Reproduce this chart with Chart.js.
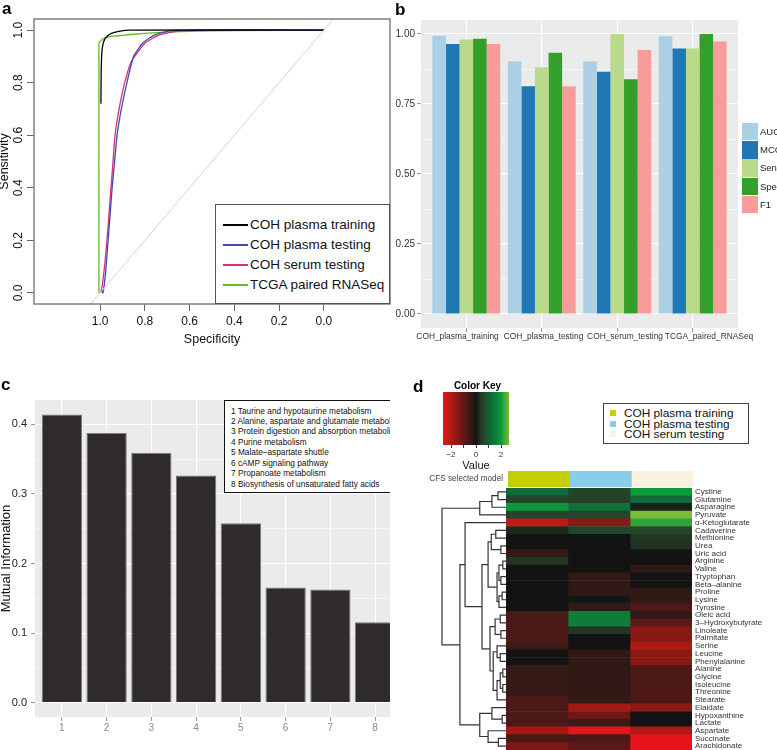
<!DOCTYPE html>
<html>
<head>
<meta charset="utf-8">
<title>Metabolite classifier figure</title>
<script src="https://cdn.jsdelivr.net/npm/chart.js@4.4.1/dist/chart.umd.min.js"></script>
<style>
html,body{margin:0;padding:0;background:#fff;}
body{width:777px;height:750px;position:relative;overflow:hidden;font-family:"Liberation Sans",Arial,Helvetica,sans-serif;color:#000;}
canvas{position:absolute;display:block;}
.lbl{position:absolute;font-weight:bold;font-size:17px;line-height:17px;}
</style>
</head>
<body>
<canvas id="cA" width="391" height="350" style="left:0;top:0"></canvas>
<canvas id="cB" width="387" height="350" style="left:390px;top:0"></canvas>
<div id="wrapC" style="position:absolute;left:0;top:360px;width:390px;height:390px;overflow:hidden;">
  <canvas id="cC" width="410" height="390" style="left:0;top:0"></canvas>
</div>
<canvas id="cKey" width="95" height="98" style="left:430px;top:376px"></canvas>
<canvas id="cBar" width="274" height="24" style="left:420px;top:466px"></canvas>
<canvas id="cDend" width="72" height="266" style="left:436px;top:484px"></canvas>
<canvas id="cHeat" width="277" height="266" style="left:500px;top:484px"></canvas>
<div class="lbl" style="left:2px;top:0px;">a</div>
<div class="lbl" style="left:395px;top:1px;">b</div>
<div class="lbl" style="left:1px;top:376px;">c</div>
<div class="lbl" style="left:413px;top:378px;">d</div>
<div style="position:absolute;left:430px;top:380px;width:95px;text-align:center;font-weight:bold;font-size:10px;line-height:11px;">Color Key</div>
<script>
// ---------------- DATA ----------------
// Panel a: ROC curves (specificity, sensitivity)
const rocNames = ['COH plasma training','COH plasma testing','COH serum testing','TCGA paired RNASeq'];
const rocColors = ['#000000','#3d4ab8','#d8307a','#62bd1e'];
const trainSpec  = [0.996,0.995,0.993,0.990,0.985,0.975,0.960,0.940,0.910,0.870,0.0];
const trainSens  = [0.72,0.84,0.90,0.93,0.953,0.970,0.982,0.990,0.996,1.0,1.0];
const plasmaSpec = [0.992,0.987,0.975,0.964,0.955,0.946,0.935,0.924,0.905,0.880,0.850,0.810,0.760,0.700,0.650,0.0];
const plasmaSens = [0.01,0.0,0.08,0.20,0.30,0.40,0.50,0.60,0.70,0.80,0.90,0.95,0.98,0.995,1.0,1.0];
const serumSpec  = [0.997,0.990,0.980,0.969,0.960,0.951,0.942,0.933,0.915,0.890,0.860,0.800,0.740,0.660,0.550,0.0];
const serumSens  = [0.0,0.03,0.10,0.20,0.30,0.40,0.50,0.60,0.70,0.80,0.88,0.95,0.98,0.995,1.0,1.0];
const tcgaSpec   = [1.005,1.005,0.998,0.990,0.970,0.940,0.900,0.850,0.750,0.600,0.400,0.0];
const tcgaSens   = [0.0,0.95,0.958,0.965,0.972,0.977,0.980,0.984,0.990,0.995,0.998,1.0];
const chanceSpec = [1.3,-0.3];
const chanceSens = [-0.3,1.3];
const rocTicks = [1.0,0.8,0.6,0.4,0.2,0.0];

// Panel b: performance metrics
const bGroups = ['COH_plasma_training','COH_plasma_testing','COH_serum_testing','TCGA_paired_RNASeq'];
const bLabelAt = [0.884,2.023,3.103,4.216];
const bMetrics = ['AUC','MCC','Sens','Spec','F1'];
const bColors = ['#abd0e6','#1f78b4','#b8da8a','#33a02c','#f89c9b'];
const bAUC  = [0.994,0.903,0.902,0.992];
const bMCC  = [0.964,0.813,0.865,0.948];
const bSens = [0.980,0.881,1.000,0.948];
const bSpec = [0.983,0.933,0.838,1.000];
const bF1   = [0.964,0.813,0.943,0.973];
const bYGrid = [0,0.125,0.25,0.375,0.5,0.625,0.75,0.875,1.0];

// Panel c: mutual information of pathways
const cPathways = ['Taurine and hypotaurine metabolism','Alanine, aspartate and glutamate metabolism','Protein digestion and absorption metabolism','Purine metabolism','Malate\u2013aspartate shuttle','cAMP signaling pathway','Propanoate metabolism','Biosynthesis of unsaturated fatty acids'];
const cRanks = [1,2,3,4,5,6,7,8];
const cMI = [0.4144,0.3875,0.3592,0.3266,0.2580,0.1655,0.1626,0.1156];
const cYGrid = [0,0.05,0.1,0.15,0.2,0.25,0.3,0.35,0.4];

// Panel d: heatmap
const groupNames = ['COH plasma training','COH plasma testing','COH serum testing'];
const groupColors = ['#c4cf00','#87ceeb','#fcf0e0'];
const hmRows = ['Cystine','Glutamine','Asparagine','Pyruvate','\u03b1-Ketoglutarate','Cadaverine','Methionine','Urea','Uric acid','Arginine','Valine','Tryptophan','Beta\u2013alanine','Proline','Lysine','Tyrosine','Oleic acid','3\u2013Hydroxybutyrate','Linoleate','Palmitate','Serine','Leucine','Phenylalanine','Alanine','Glycine','Isoleucine','Threonine','Stearate','Elaidate','Hypoxanthine','Lactate','Aspartate','Succinate','Arachidonate'];
const hmTraining      = [1.2,0.6,2.0,0.6,-2.2,0.25,0,0,-0.35,0.4,0,0,0,0,0,0,-0.7,-0.7,-0.7,-0.7,-0.5,0,0,-0.4,-0.4,-0.4,-0.4,-0.7,-0.7,-0.7,-0.7,-1.8,-0.7,-1.3];
const hmPlasmaTesting = [0.6,0.55,1.3,0.6,-1.5,0.6,0,0,0,0,0,-0.35,-0.35,-0.35,0.05,-0.35,1.5,1.5,0.4,0,0,-0.35,-0.35,-0.35,-0.35,-0.35,-0.35,-0.35,-1.8,-1.1,-0.5,-2.6,-0.7,-0.9];
const hmSerumTesting  = [2.0,1.2,0.15,2.7,2.2,0.6,0.4,0.35,0,0,-0.35,0,0,-0.35,-0.35,-0.7,-0.35,-0.9,-1.5,-1.5,-2.0,-1.5,-1.5,-0.7,-0.7,-0.7,-0.7,-0.7,-1.5,0,0,-2.0,-2.6,-2.6];
const keyStops  = [-2.64,-2.0,-1.0,-0.35,0,0.5,1.2,2.0,2.64];
const keyColors = ['#e8141a','#b01a16','#641816','#311a16','#131313','#263f27','#0f6b3a','#0a9a3a','#7cbb38'];
const keyTicks = [-2,-1,0,1,2];
// dendrogram, hclust style: negative = leaf (row number), positive = earlier merge
const dendLeft   = [-1, 1, 2, -6, -8, 4, -10, -12, 7, -14, 10, 9, 6, -17, -19, 14, -22, -21, -24, -26, 19, 21, 18, 16, 13, -5, -30, -29, -33, -32, 28, 26, 3];
const dendRight  = [-2, -3, -4, -7, -9, 5, -11, -13, 8, -15, -16, 11, 12, -18, -20, 15, -23, 17, -25, -27, 20, -28, 22, 23, 24, 25, -31, 27, -34, 29, 30, 31, 32];
const dendHeight = [1.25, 2.2, 4.1, 1.6, 0.8, 2.3, 0.5, 0.8, 1.1, 0.6, 1.1, 1.4, 2.8, 0.9, 0.8, 1.7, 0.9, 1.4, 0.5, 0.5, 0.9, 1.4, 2.0, 2.5, 3.75, 6.4, 0.6, 2.2, 1.2, 2.8, 4.1, 7.2, 10];

// ---------------- HELPERS ----------------
Chart.defaults.font.family = '"Liberation Sans", Arial, Helvetica, sans-serif';
Chart.defaults.color = '#000';
function baseOpts(o){
  const p = Object.assign({legend:{display:false}, tooltip:{enabled:false}}, o.plugins || {});
  return Object.assign({responsive:false, animation:false, devicePixelRatio:1, events:[]}, o, {plugins:p});
}
function noPad(s){ s.paddingTop = 0; s.paddingBottom = 0; s.paddingLeft = 0; s.paddingRight = 0; }
function fitW(w){ return s => { s.width = w; noPad(s); }; }
function fitH(h){ return s => { s.height = h; noPad(s); }; }
function addDiv(parent, css, text){
  const d = document.createElement('div');
  d.style.cssText = 'position:absolute;white-space:nowrap;' + css;
  if (text != null) d.textContent = text;
  parent.appendChild(d);
  return d;
}
function hexToRgb(h){ const n = parseInt(h.slice(1),16); return [(n>>16)&255,(n>>8)&255,n&255]; }
function valueColor(v){
  v = Math.max(keyStops[0], Math.min(keyStops[keyStops.length-1], v));
  for (let i = 1; i < keyStops.length; i++){
    if (v <= keyStops[i]){
      const t = (v - keyStops[i-1]) / (keyStops[i] - keyStops[i-1]);
      const a = hexToRgb(keyColors[i-1]), b = hexToRgb(keyColors[i]);
      return 'rgb(' + a.map((c,j) => Math.round(c + (b[j]-c)*t)).join(',') + ')';
    }
  }
  return keyColors[keyColors.length-1];
}
const panelBg = {id:'panelBg', beforeDraw(chart, args, opts){
  if (!opts || !opts.color) return;
  const {ctx, chartArea:a} = chart;
  ctx.save(); ctx.fillStyle = opts.color; ctx.fillRect(a.left, a.top, a.right-a.left, a.bottom-a.top); ctx.restore();
}};
const frame = {id:'frame', afterDraw(chart, args, opts){
  if (!opts || !opts.color) return;
  const {ctx, chartArea:a} = chart;
  ctx.save(); ctx.strokeStyle = opts.color; ctx.lineWidth = opts.width || 1;
  ctx.strokeRect(a.left, a.top, a.right-a.left, a.bottom-a.top); ctx.restore();
}};
const keyGradient = {id:'keyGradient', beforeDatasetsDraw(chart){
  const {ctx, chartArea:a, scales:{x}} = chart;
  const g = ctx.createLinearGradient(a.left, 0, a.right, 0);
  keyStops.forEach((v,i) => {
    const f = (x.getPixelForValue(v) - a.left) / (a.right - a.left);
    g.addColorStop(Math.max(0, Math.min(1, f)), keyColors[i]);
  });
  ctx.save(); ctx.fillStyle = g; ctx.fillRect(a.left, a.top, a.right-a.left, a.bottom-a.top); ctx.restore();
}};

// ---------------- PANEL A ----------------
const rocSpecs = [trainSpec, plasmaSpec, serumSpec, tcgaSpec];
const rocSens  = [trainSens, plasmaSens, serumSens, tcgaSens];
new Chart(document.getElementById('cA'), {
  type:'scatter',
  data:{datasets:[
    {label:'chance', data: chanceSpec.map((x,i)=>({x, y:chanceSens[i]})), borderColor:'#cfd0ea', borderWidth:1, showLine:true, pointRadius:0},
    ...rocNames.map((n,i)=>({label:n, data: rocSpecs[i].map((x,j)=>({x, y:rocSens[i][j]})), borderColor:rocColors[i], borderWidth:1.3, showLine:true, pointRadius:0, tension:0.15}))
  ]},
  options: baseOpts({
    layout:{padding:{top:19, right:1, left:0, bottom:0}},
    scales:{
      x:{type:'linear', reverse:true, min:-0.295, max:1.295,
         afterBuildTicks(s){ s.ticks = rocTicks.map(v=>({value:v})); },
         ticks:{callback:v=>Number(v).toFixed(1), font:{size:12}, color:'#111', padding:3, autoSkip:false, maxRotation:0},
         grid:{drawOnChartArea:false, tickLength:7, color:'#666'}, border:{display:false},
         title:{display:true, text:'Specificity', font:{size:12.5}, color:'#111', padding:{top:0,bottom:3}},
         afterFit: fitH(46)},
      y:{type:'linear', min:-0.042, max:1.042,
         afterBuildTicks(s){ s.ticks = rocTicks.slice().reverse().map(v=>({value:v})); },
         ticks:{callback:v=>Number(v).toFixed(1), font:{size:12}, color:'#111', padding:0, minRotation:90, maxRotation:90, crossAlign:'center', autoSkip:false},
         grid:{drawOnChartArea:false, tickLength:7, color:'#666'}, border:{display:false},
         title:{display:true, text:'Sensitivity', font:{size:12.5, lineHeight:0.7}, color:'#111', padding:0},
         afterFit: fitW(34)}
    },
    plugins:{frame:{color:'#808080', width:1.5}}
  }),
  plugins:[frame]
});
// legend a
(function(){
  addDiv(document.body, 'left:215px;top:204px;width:175px;height:100px;box-sizing:border-box;border:1.5px solid #555;background:#fff;');
  rocNames.forEach((n,i)=>{
    const cy = 225 + 20*i;
    addDiv(document.body, `left:223px;top:${cy-0.75}px;width:25px;height:1.5px;background:${rocColors[i]};`);
    addDiv(document.body, `left:250px;top:${cy-8}px;font-size:13.5px;line-height:16px;color:#111;`, n);
  });
})();

// ---------------- PANEL B ----------------
const bValues = [bAUC, bMCC, bSens, bSpec, bF1];
const isMajorB = v => Math.abs(v*4 - Math.round(v*4)) < 1e-6;
new Chart(document.getElementById('cB'), {
  type:'bar',
  data:{datasets: bMetrics.map((m,i)=>({label:m, data: bValues[i].map((v,j)=>({x:j+1, y:v})), backgroundColor:bColors[i], categoryPercentage:0.9, barPercentage:1, borderWidth:0}))},
  options: baseOpts({
    layout:{padding:{top:20, right:39, left:0, bottom:0}},
    scales:{
      x:{type:'linear', min:0.4, max:4.6, offset:false, weight:0,
         afterBuildTicks(s){ s.ticks = bGroups.map((g,i)=>({value:i+1})); },
         ticks:{display:false},
         grid:{offset:false, color:'#ffffff', lineWidth:1.1, tickColor:'#999', tickLength:4}, border:{display:false},
         afterFit: fitH(4)},
      xLab:{type:'linear', position:'bottom', axis:'x', min:0.4, max:4.6, offset:false, weight:1,
         afterBuildTicks(s){ s.ticks = bLabelAt.map(v=>({value:v})); },
         ticks:{callback:(v,i)=>bGroups[i], font:{size:8.4}, color:'#333', padding:0, autoSkip:false, maxRotation:0},
         grid:{display:false, drawTicks:false}, border:{display:false},
         afterFit: fitH(18)},
      y:{type:'linear', min:-0.05, max:1.05,
         afterBuildTicks(s){ s.ticks = bYGrid.map(v=>({value:v})); },
         ticks:{callback:v=>isMajorB(v)?Number(v).toFixed(2):'', font:{size:10}, color:'#333', padding:2, autoSkip:false},
         grid:{color:'#ffffff', lineWidth:c=>isMajorB(c.tick.value)?1.1:0.5, tickColor:c=>isMajorB(c.tick.value)?'#999':'rgba(0,0,0,0)', tickLength:4}, border:{display:false},
         afterFit: fitW(31)}
    },
    plugins:{panelBg:{color:'#ebebeb'}}
  }),
  plugins:[panelBg]
});
// legend b
bMetrics.forEach((m,i)=>{
  const top = 123 + 18.2*i;
  addDiv(document.body, `left:742px;top:${top}px;width:16px;height:17.4px;background:${bColors[i]};`);
  addDiv(document.body, `left:760px;top:${top+3}px;font-size:9.5px;line-height:12px;color:#222;`, m);
});

// ---------------- PANEL C ----------------
const isMajorC = v => Math.abs(v*10 - Math.round(v*10)) < 1e-6;
new Chart(document.getElementById('cC'), {
  type:'bar',
  data:{datasets:[{label:'Mutual Information', data: cRanks.map((r,i)=>({x:r, y:cMI[i]})), backgroundColor:'#302b2b', borderColor:'#7a7a7a', borderWidth:1, categoryPercentage:0.9, barPercentage:1}]},
  options: baseOpts({
    layout:{padding:{top:40, right:8, left:0, bottom:0}},
    scales:{
      x:{type:'linear', min:0.4, max:8.6, offset:false,
         afterBuildTicks(s){ s.ticks = cRanks.map(v=>({value:v})); },
         ticks:{callback:v=>String(v), font:{size:10}, color:'#8a8a8a', padding:1, autoSkip:false, maxRotation:0},
         grid:{offset:false, color:'#ffffff', lineWidth:1.1, tickColor:'#999', tickLength:4}, border:{display:false},
         afterFit: fitH(33)},
      y:{type:'linear', min:-0.0207, max:0.4351,
         afterBuildTicks(s){ s.ticks = cYGrid.map(v=>({value:v})); },
         ticks:{callback:v=>isMajorC(v)?Number(v).toFixed(1):'', font:{size:11}, color:'#222', padding:4, autoSkip:false},
         grid:{color:'#ffffff', lineWidth:c=>isMajorC(c.tick.value)?1.1:0.5, tickColor:c=>isMajorC(c.tick.value)?'#999':'rgba(0,0,0,0)', tickLength:4}, border:{display:false},
         title:{display:true, text:'Mutual Information', font:{size:13, lineHeight:1}, color:'#111', padding:0},
         afterFit: fitW(35)}
    },
    plugins:{panelBg:{color:'#ebebeb'}}
  }),
  plugins:[panelBg]
});
// legend c
(function(){
  const wrap = document.getElementById('wrapC');
  addDiv(wrap, 'left:224px;top:40px;width:180px;height:93px;box-sizing:border-box;border:1.2px solid #111;background:#fff;');
  cPathways.forEach((p,i)=>{
    const cy = 51 + 10.43*i;
    addDiv(wrap, `left:231px;top:${cy-5.5}px;font-size:8.3px;line-height:11px;color:#111;`, cRanks[i] + ' ' + p);
  });
})();

// ---------------- PANEL D ----------------
// colour key
new Chart(document.getElementById('cKey'), {
  type:'scatter',
  data:{datasets:[]},
  options: baseOpts({
    layout:{padding:{top:16, right:16, left:13, bottom:0}},
    scales:{
      x:{type:'linear', min:keyStops[0], max:keyStops[keyStops.length-1],
         afterBuildTicks(s){ s.ticks = keyTicks.map(v=>({value:v})); },
         ticks:{callback:v=>(Math.round(v)%2===0)?String(v).replace('-','\u2212'):'', font:{size:8}, color:'#333', padding:2, autoSkip:false, maxRotation:0},
         grid:{drawOnChartArea:false, tickLength:3, color:'#334'}, border:{display:false},
         title:{display:true, text:'Value', font:{size:11}, color:'#111', padding:{top:0,bottom:1}},
         afterFit: fitH(29)},
      y:{type:'linear', min:0, max:1, display:false}
    }
  }),
  plugins:[keyGradient]
});
// column side colours
new Chart(document.getElementById('cBar'), {
  type:'bar',
  data:{labels:['CFS selected model'], datasets: groupNames.map((g,c)=>({label:g, data:[[c,c+1]], backgroundColor:groupColors[c], grouped:false, barPercentage:1, categoryPercentage:1, borderWidth:0}))},
  options: baseOpts({
    indexAxis:'y',
    layout:{padding:{top:5, right:1, left:0, bottom:3}},
    scales:{
      x:{type:'linear', min:0, max:3, display:false},
      y:{type:'category', position:'left', grid:{display:false, drawTicks:false}, border:{display:false},
         ticks:{font:{size:8.2}, color:'#444', padding:5},
         afterFit: fitW(88)}
    }
  })
});
// heatmap
const hmCols = [hmTraining, hmPlasmaTesting, hmSerumTesting];
new Chart(document.getElementById('cHeat'), {
  type:'bar',
  data:{labels:hmRows, datasets: hmCols.map((vals,c)=>({label:groupNames[c], data: vals.map(()=>[c,c+1]), backgroundColor: vals.map(valueColor), grouped:false, barPercentage:1, categoryPercentage:1, borderWidth:0}))},
  options: baseOpts({
    indexAxis:'y',
    layout:{padding:{top:4, right:0, left:6, bottom:0}},
    scales:{
      x:{type:'linear', min:0, max:3, display:false},
      y:{type:'category', position:'right', grid:{display:false, drawTicks:false}, border:{display:false},
         ticks:{autoSkip:false, font:{size:8}, color:'#333', padding:3},
         afterFit: fitW(85)}
    }
  })
});
// dendrogram
const dendNodes = [];
function dendPos(ref){ return ref < 0 ? {y:-ref-1+0.5, h:0} : dendNodes[ref-1]; }
dendLeft.forEach((l,k)=>{
  const a = dendPos(l), b = dendPos(dendRight[k]);
  dendNodes.push({y:(a.y+b.y)/2, h:dendHeight[k], a, b});
});
new Chart(document.getElementById('cDend'), {
  type:'scatter',
  data:{datasets: dendNodes.map(n=>({data:[{x:n.a.h,y:n.a.y},{x:n.h,y:n.a.y},{x:n.h,y:n.b.y},{x:n.b.h,y:n.b.y}], showLine:true, pointRadius:0, borderColor:'#333', borderWidth:1.2, clip:4}))},
  options: baseOpts({
    layout:{padding:{top:4, right:2, left:6, bottom:0}},
    scales:{
      x:{type:'linear', reverse:true, min:0, max:10, display:false},
      y:{type:'linear', reverse:true, min:0, max:hmRows.length, display:false}
    }
  })
});
// legend d
(function(){
  addDiv(document.body, 'left:603px;top:403px;width:146px;height:41px;box-sizing:border-box;border:1.5px solid #444;background:#fff;');
  groupNames.forEach((g,i)=>{
    const cy = 413 + 10.7*i;
    addDiv(document.body, `left:610px;top:${cy-3}px;width:6px;height:6px;background:${groupColors[i]};`);
    addDiv(document.body, `left:624px;top:${cy-7}px;font-size:11.8px;line-height:14px;color:#111;`, g);
  });
})();
</script>
</body>
</html>
